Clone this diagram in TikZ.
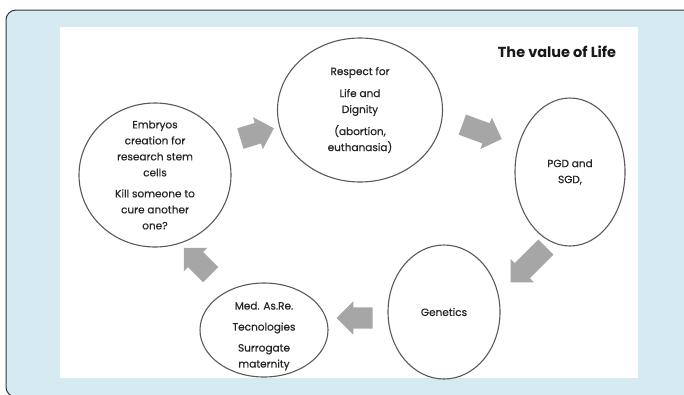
\documentclass[tikz,border=0pt]{standalone}
\usepackage{fontspec}
\setmainfont{Poppins}
\newfontfamily\ringfont{Poppins}[FakeBold=0.5]
\usetikzlibrary{shapes.geometric,shapes.arrows}
\definecolor{framebg}{RGB}{214,235,241}
\definecolor{arrgray}{HTML}{A6A6A6}
\definecolor{ringgray}{HTML}{5A5A5A}
\definecolor{txtdark}{HTML}{262626}

\begin{document}
\begin{tikzpicture}[x=1pt, y=-1pt,
  ring/.style={draw=ringgray, line width=1.1pt, ellipse, inner sep=0pt},
  txt/.style={align=center, text=txtdark, inner sep=0pt,
              font=\ringfont\fontsize{10.5}{16}\selectfont},
  blk/.style={single arrow, fill=arrgray, draw=none, inner sep=10.5pt,
              single arrow head extend=6pt, minimum height=#1},
]
\useasboundingbox (0,0) rectangle (684,394);

% ---- Frame ----
\fill[framebg, draw=black!80, line width=1pt, rounded corners=10pt]
  (6,10) rectangle (700,397);
\fill[white] (60,27) rectangle (638,378);

\node[font=\fontsize{14.5}{16}\selectfont\bfseries, text=black!90] (title)
  at (557,52) {The value of Life};

% ---- Rings ----
\node[ring, minimum width=152pt, minimum height=144pt] (emb) at (155,175) {};
\node[ring, minimum width=165pt, minimum height=144pt] (resp) at (360,110) {};
\node[ring, minimum width=110pt, minimum height=148pt] (pgd) at (570,172) {};
\node[ring, minimum width=112pt, minimum height=134pt] (gen) at (444,312) {};
\node[ring, minimum width=128pt, minimum height=94pt] (med) at (264,330) {};

\node[txt] (embt) at (emb)
  {Embryos\\creation for\\research stem\\cells\\[5pt]Kill someone to\\cure another\\one?};
\node[txt] (respt) at (resp)
  {Respect for\\[6pt]Life and\\Dignity\\[6pt](abortion,\\euthanasia)};
\node[txt] (pgdt) at (pgd) {PGD and\\SGD,};
\node[txt] (gent) at (gen) {Genetics};
\node[txt, yshift=-6pt] (medt) at (med)
  {Med. As.Re.\\[5pt]Tecnologies\\[5pt]Surrogate\\maternity};

% ---- Block arrows ----
\node[blk=35pt, rotate=17] (ar1) at (252,135) {};
\node[blk=42pt, rotate=-20] (ar2) at (477,130) {};
\node[blk=50pt, rotate=-135] (ar3) at (532,261) {};
\node[blk=36pt, rotate=180] (ar4) at (360,318) {};
\node[blk=38pt, rotate=135] (ar5) at (201,265) {};

\end{tikzpicture}
\end{document}
